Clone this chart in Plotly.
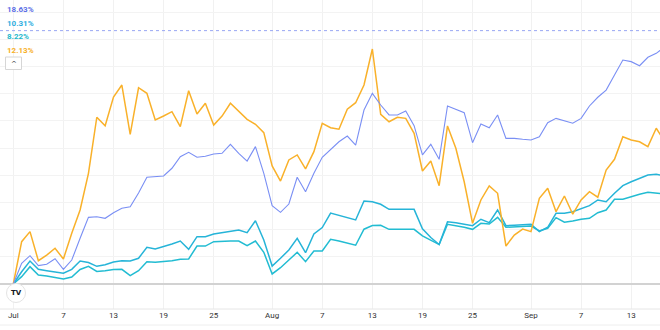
import datetime as dt
import plotly.graph_objects as go

# Daily percentage change since 1 July, one value per day
start_day = dt.date(2024, 7, 1)
n_days = 79
dates = [start_day + dt.timedelta(days=i) for i in range(n_days)]

blue_pct = [
    0.00, 1.52, 2.08, 1.35, 1.45, 1.86, 1.08, 1.76, 3.36, 4.90,
    4.95, 4.83, 5.24, 5.57, 5.68, 6.69, 7.85, 7.87, 7.94, 8.51,
    9.36, 9.68, 9.32, 9.39, 9.56, 9.61, 10.27, 9.61, 9.04, 10.10,
    8.14, 5.76, 5.27, 5.88, 7.85, 6.79, 8.14, 9.32, 9.88, 10.46,
    10.88, 10.22, 12.79, 14.02, 13.16, 12.43, 12.43, 12.72, 11.64, 9.49,
    10.27, 9.17, 13.09, 12.85, 12.60, 10.39, 11.76, 11.49, 12.43, 10.71,
    10.71, 10.64, 10.59, 10.83, 11.86, 12.18, 12.01, 11.82, 12.18, 13.09,
    13.73, 14.26, 15.37, 16.47, 16.35, 16.05, 16.67, 16.96, 17.43,
]

cyan_pct = [
    0.00, 0.90, 1.69, 1.08, 0.98, 0.86, 0.79, 1.08, 1.69, 1.58,
    1.30, 1.42, 1.62, 1.71, 1.69, 1.89, 2.70, 2.57, 2.74, 2.94,
    3.16, 2.55, 3.48, 3.48, 3.68, 3.77, 3.86, 3.97, 3.77, 4.65,
    3.24, 1.32, 1.89, 2.50, 3.36, 2.30, 3.68, 4.15, 5.22, 5.05,
    4.88, 4.71, 6.10, 6.05, 5.86, 5.49, 5.49, 5.49, 5.49, 4.06,
    3.42, 2.90, 4.58, 4.51, 4.41, 4.29, 4.76, 4.51, 5.44, 4.29,
    4.32, 4.35, 4.39, 3.85, 4.17, 5.20, 5.20, 5.32, 5.54, 5.76,
    6.18, 6.05, 6.67, 7.23, 7.52, 7.77, 8.01, 8.07, 7.94,
]

teal_pct = [
    0.00, 0.54, 1.27, 0.66, 0.59, 0.48, 0.37, 0.51, 1.07, 1.30,
    0.92, 0.98, 1.07, 1.08, 0.61, 0.98, 1.64, 1.60, 1.64, 1.71,
    1.82, 1.84, 2.79, 2.79, 3.11, 3.16, 3.16, 3.16, 2.82, 3.16,
    2.33, 0.74, 1.20, 1.76, 2.33, 1.64, 2.43, 2.43, 3.29, 3.16,
    3.01, 2.85, 4.03, 4.30, 4.32, 4.02, 4.02, 4.02, 4.02, 3.54,
    3.24, 2.90, 4.39, 4.29, 4.17, 4.02, 4.46, 4.41, 4.90, 4.17,
    4.21, 4.24, 4.26, 3.90, 4.10, 4.88, 4.54, 4.63, 4.76, 4.83,
    5.24, 5.44, 6.23, 6.23, 6.42, 6.60, 6.74, 6.67, 6.62,
]

orange_pct = [
    0.00, 3.11, 3.85, 1.71, 2.13, 2.63, 1.84, 3.73, 5.44, 8.14,
    12.26, 11.64, 13.75, 14.63, 11.01, 14.43, 14.02, 12.06, 12.35, 12.67,
    11.57, 14.21, 12.50, 13.29, 11.69, 12.35, 13.29, 12.67, 12.11, 11.74,
    11.13, 8.68, 7.57, 9.12, 9.49, 8.46, 9.73, 11.82, 11.49, 11.38,
    12.85, 13.33, 14.63, 17.28, 12.48, 11.93, 12.26, 12.18, 11.08, 8.31,
    9.04, 7.23, 11.62, 9.98, 7.52, 4.46, 6.18, 7.21, 6.67, 2.79,
    3.60, 4.04, 3.85, 6.30, 7.04, 5.32, 6.47, 5.13, 6.18, 6.79,
    6.38, 8.38, 9.17, 10.83, 10.59, 10.46, 10.10, 11.45, 10.51,
]

# Latest values shown in the header
header_values = ["18.63%", "10.31%", "8.22%", "12.13%"]
header_colors = ["#5b6ee6", "#2eaee0", "#1db8cc", "#f7b027"]
blue_last = 18.63

tick_dates = [
    dt.date(2024, 7, 1), dt.date(2024, 7, 7), dt.date(2024, 7, 13),
    dt.date(2024, 7, 19), dt.date(2024, 7, 25), dt.date(2024, 8, 1),
    dt.date(2024, 8, 7), dt.date(2024, 8, 13), dt.date(2024, 8, 19),
    dt.date(2024, 8, 25), dt.date(2024, 9, 1), dt.date(2024, 9, 7),
    dt.date(2024, 9, 13),
]
tick_text = ["Jul", "7", "13", "19", "25", "Aug", "7", "13", "19", "25",
             "Sep", "7", "13"]

# Layout geometry
W, H = 660, 330
plot_h = 309
px_per_day = 8.35
first_day_px = 13.3
zero_px = 284
px_per_pct = 13.6

x_start = dt.datetime(2024, 7, 1) - dt.timedelta(days=first_day_px / px_per_day)
x_end = x_start + dt.timedelta(days=W / px_per_day)
y_top = zero_px / px_per_pct
y_bot = -(plot_h - zero_px) / px_per_pct


def py(p):
    """Pixel row -> paper y."""
    return (plot_h - p) / plot_h


def px(p):
    """Pixel column -> paper x."""
    return p / W


fig = go.Figure()

series = [
    (teal_pct, "#22bcd2", 1.5),
    (cyan_pct, "#26b4d8", 1.5),
    (orange_pct, "#f9b12a", 1.5),
    (blue_pct, "#7a8ff4", 1.1),
]
for vals, color, width in series:
    fig.add_trace(go.Scatter(
        x=dates, y=vals, mode="lines",
        line=dict(color=color, width=width),
        hoverinfo="skip", showlegend=False,
    ))

shapes = [
    # last-value price line of the blue series
    dict(type="line", xref="paper", yref="y", x0=0, x1=1,
         y0=blue_last, y1=blue_last,
         line=dict(color="#98a6f3", width=1, dash="dot")),
    # time-scale separators
    dict(type="line", xref="paper", yref="paper", x0=0, x1=1,
         y0=0, y1=0, line=dict(color="#e6e6e6", width=1)),
    dict(type="line", xref="paper", yref="paper", x0=0, x1=1,
         y0=py(325), y1=py(325), line=dict(color="#eeeeee", width=1)),
    # collapse button
    dict(type="rect", xref="paper", yref="paper",
         x0=px(5.5), x1=px(21.5), y0=py(69.5), y1=py(57),
         line=dict(color="#d6d6d6", width=1), fillcolor="white"),
    # logo badge
    dict(type="circle", xref="paper", yref="paper",
         x0=px(6.5), x1=px(25.5), y0=py(302.5), y1=py(283.5),
         line=dict(color="#e4e4e4", width=1), fillcolor="white"),
]

annotations = []
header_rows = [9.5, 23.3, 36.2, 50.5]
for text, color, row in zip(header_values, header_colors, header_rows):
    annotations.append(dict(
        text=f"<b>{text}</b>", x=px(4.5), y=py(row), xref="paper", yref="paper",
        xanchor="left", yanchor="middle", showarrow=False,
        font=dict(family="Roboto", size=8, color=color),
    ))
annotations.append(dict(
    text="^", x=px(13.5), y=py(64), xref="paper", yref="paper",
    xanchor="center", yanchor="middle", showarrow=False,
    font=dict(family="DejaVu Sans", size=7, color="#333333"),
))
annotations.append(dict(
    text="<b>TV</b>", x=px(16), y=py(293), xref="paper", yref="paper",
    xanchor="center", yanchor="middle", showarrow=False,
    font=dict(family="DejaVu Sans", size=7, color="#131722"),
))

fig.update_layout(
    width=W, height=H, autosize=False,
    margin=dict(l=0, r=0, t=0, b=H - plot_h, pad=0),
    paper_bgcolor="white", plot_bgcolor="white",
    shapes=shapes, annotations=annotations,
    xaxis=dict(
        type="date", range=[x_start, x_end],
        tickvals=tick_dates, ticktext=tick_text,
        showgrid=True, gridcolor="#f1f1f1", gridwidth=1,
        ticks="", showline=False, zeroline=False,
        tickfont=dict(family="Roboto", size=8, color="#333333"),
    ),
    yaxis=dict(
        range=[y_bot, y_top], dtick=2, tick0=0,
        showgrid=True, gridcolor="#f3f3f3", gridwidth=1,
        zeroline=True, zerolinecolor="#d2d2d2", zerolinewidth=1.5,
        showticklabels=False, ticks="", showline=False,
    ),
)

fig.write_html("out.html", config={"displayModeBar": False})
